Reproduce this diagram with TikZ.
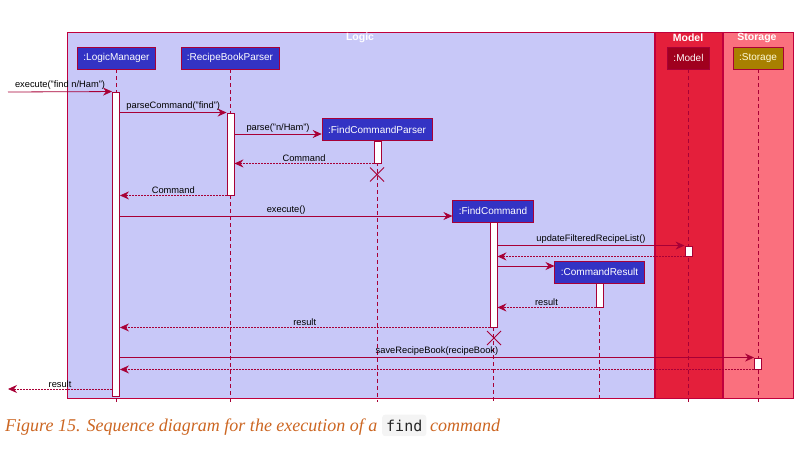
\documentclass[tikz,border=0pt]{standalone}
\usepackage{fontspec}
\setmainfont{Liberation Sans}
\newfontfamily\capfont{Liberation Serif}
\newfontfamily\codefont{DejaVu Sans Mono}
\usetikzlibrary{arrows.meta,shapes.misc}

\definecolor{seqline}{HTML}{A80036}
\definecolor{framered}{HTML}{C0003C}
\definecolor{logicbg}{HTML}{C8C8F8}
\definecolor{modelbg}{HTML}{E41F3B}
\definecolor{storebg}{HTML}{FA707E}
\definecolor{partblue}{HTML}{3333C4}
\definecolor{modelpart}{HTML}{A0001E}
\definecolor{storepart}{HTML}{A88000}
\definecolor{capcolor}{HTML}{CC6622}
\definecolor{codebg}{HTML}{F4F4F4}

\tikzset{
  part/.style={draw=seqline,line width=0.8pt,fill=partblue,text=white,
    minimum height=22pt,inner xsep=6pt,font=\fontsize{10}{12}\selectfont},
  life/.style={seqline,dash pattern=on 4pt off 3pt,line width=0.7pt},
  actbar/.style={draw=seqline,fill=white,line width=0.9pt,minimum width=7pt,inner sep=0pt},
  msg/.style={seqline,line width=0.8pt,-{Stealth[length=9pt,width=8pt,inset=3pt]}},
  ret/.style={msg,dash pattern=on 2pt off 1pt},
  lbl/.style={above=0.5pt,inner sep=1pt,text=black,font=\fontsize{9.3}{11}\selectfont},
  frametitle/.style={text=white,font=\bfseries\fontsize{10.5}{12}\selectfont},
  destroy/.style={draw=seqline,cross out,line width=1pt,minimum size=13pt,inner sep=0pt},
}

\begin{document}
\begin{tikzpicture}[x=1pt,y=-1pt]
\useasboundingbox (0,0) rectangle (804,463);

\draw [draw=framered,fill=logicbg,line width=0.9pt] (67,32) rectangle (654,398);
\draw [draw=framered,fill=modelbg,line width=0.9pt] (655,32) rectangle (722,398);
\draw [draw=framered,fill=storebg,line width=0.9pt] (723,32) rectangle (793,398);
\node [frametitle] (logicT) at (360,38) {Logic};
\node [frametitle] (modelT) at (688,38) {Model};
\node [frametitle] (storeT) at (757,38) {Storage};

\node [part]                (lm)  at (116.5,58)  {:LogicManager};
\node [part]                (rbp) at (230,58)    {:RecipeBookParser};
\node [part,fill=modelpart,text=white!85!pink] (mdl) at (688.5,58) {:Model};
\node [part,fill=storepart,text=white!85!yellow] (stg) at (758,58) {:Storage};
\node [part]                (fcp) at (377,129.5) {:FindCommandParser};
\node [part]                (fc)  at (493,211)   {:FindCommand};
\node [part]                (cr)  at (599.5,272) {:CommandResult};

\coordinate (bot) at (0,402);
\foreach \p in {lm,rbp,mdl,stg,fcp,fc,cr}
  \draw [life] (\p.south) -- (\p.south |- bot);

\node [actbar,minimum height=304pt] (lmA)  at (116,244)   {};
\node [actbar,minimum height=82pt]  (rbpA) at (230.5,154) {};
\node [actbar,minimum height=22pt]  (fcpA) at (377.5,152) {};
\node [actbar,minimum height=105pt] (fcA)  at (493.5,274.5) {};
\node [actbar,minimum height=10pt]  (mA)   at (688.5,251) {};
\node [actbar,minimum height=24pt]  (crA)  at (599.5,295) {};
\node [actbar,minimum height=11pt]  (stA)  at (758,363.5) {};

\node [destroy] (fcpX) at (377,174.5) {};
\node [destroy] (fcX)  at (494,338)   {};

\coordinate (callIn) at (8,92);
\coordinate (retOut) at (8,389);
\coordinate (fcpIn) at ([yshift=-4.5pt]fcp.west);
\coordinate (fcIn)  at ([yshift=-5pt]fc.west);
\coordinate (crIn)  at ([yshift=6pt]cr.west);

\draw [msg] (callIn) -- node [lbl] {execute("find n/Ham")} (lmA.north west);
\draw [msg] (lmA.east |- rbpA.north) -- node [lbl] {parseCommand("find")} (rbpA.north west);
\draw [msg] (rbpA.east |- fcpIn) -- node [lbl] {parse("n/Ham")} (fcpIn);
\draw [ret] (fcpA.south west) -- node [lbl] {Command} (rbpA.east |- fcpA.south);
\draw [ret] (rbpA.south west) -- node [lbl] {Command} (lmA.east |- rbpA.south);
\draw [msg] (lmA.east |- fcIn) -- node [lbl] {execute()} (fcIn);
\draw [msg] (fcA.east |- mA.north) -- node [lbl] {updateFilteredRecipeList()} (mA.north west);
\draw [ret] (mA.south west) -- (fcA.east |- mA.south);
\draw [msg] (fcA.east |- crIn) -- (crIn);
\draw [ret] (crA.south west) -- node [lbl] {result} (fcA.east |- crA.south);
\draw [ret] (fcA.south west) -- node [lbl] {result} (lmA.east |- fcA.south);
\draw [msg] (lmA.east |- stA.north) -- node [lbl] {saveRecipeBook(recipeBook)} (stA.north west);
\draw [ret] (stA.south west) -- (lmA.east |- stA.south);
\draw [ret] (lmA.west |- retOut) -- node [lbl] {result} (retOut);

\node [anchor=base west,inner sep=0pt,text=capcolor,font=\capfont\itshape\fontsize{18}{20}\selectfont]
  (capA) at (5,431) {Figure 15. Sequence diagram for the execution of a};
\node [anchor=base west,fill=codebg,rounded corners=3pt,inner xsep=4pt,inner ysep=5pt,
  text=black!85,font=\codefont\fontsize{15}{17}\selectfont] (capCode) at (382,431) {find};
\node [anchor=base west,inner sep=0pt,text=capcolor,font=\capfont\itshape\fontsize{18}{20}\selectfont]
  (capB) at (430,431) {command};
\end{tikzpicture}
\end{document}
